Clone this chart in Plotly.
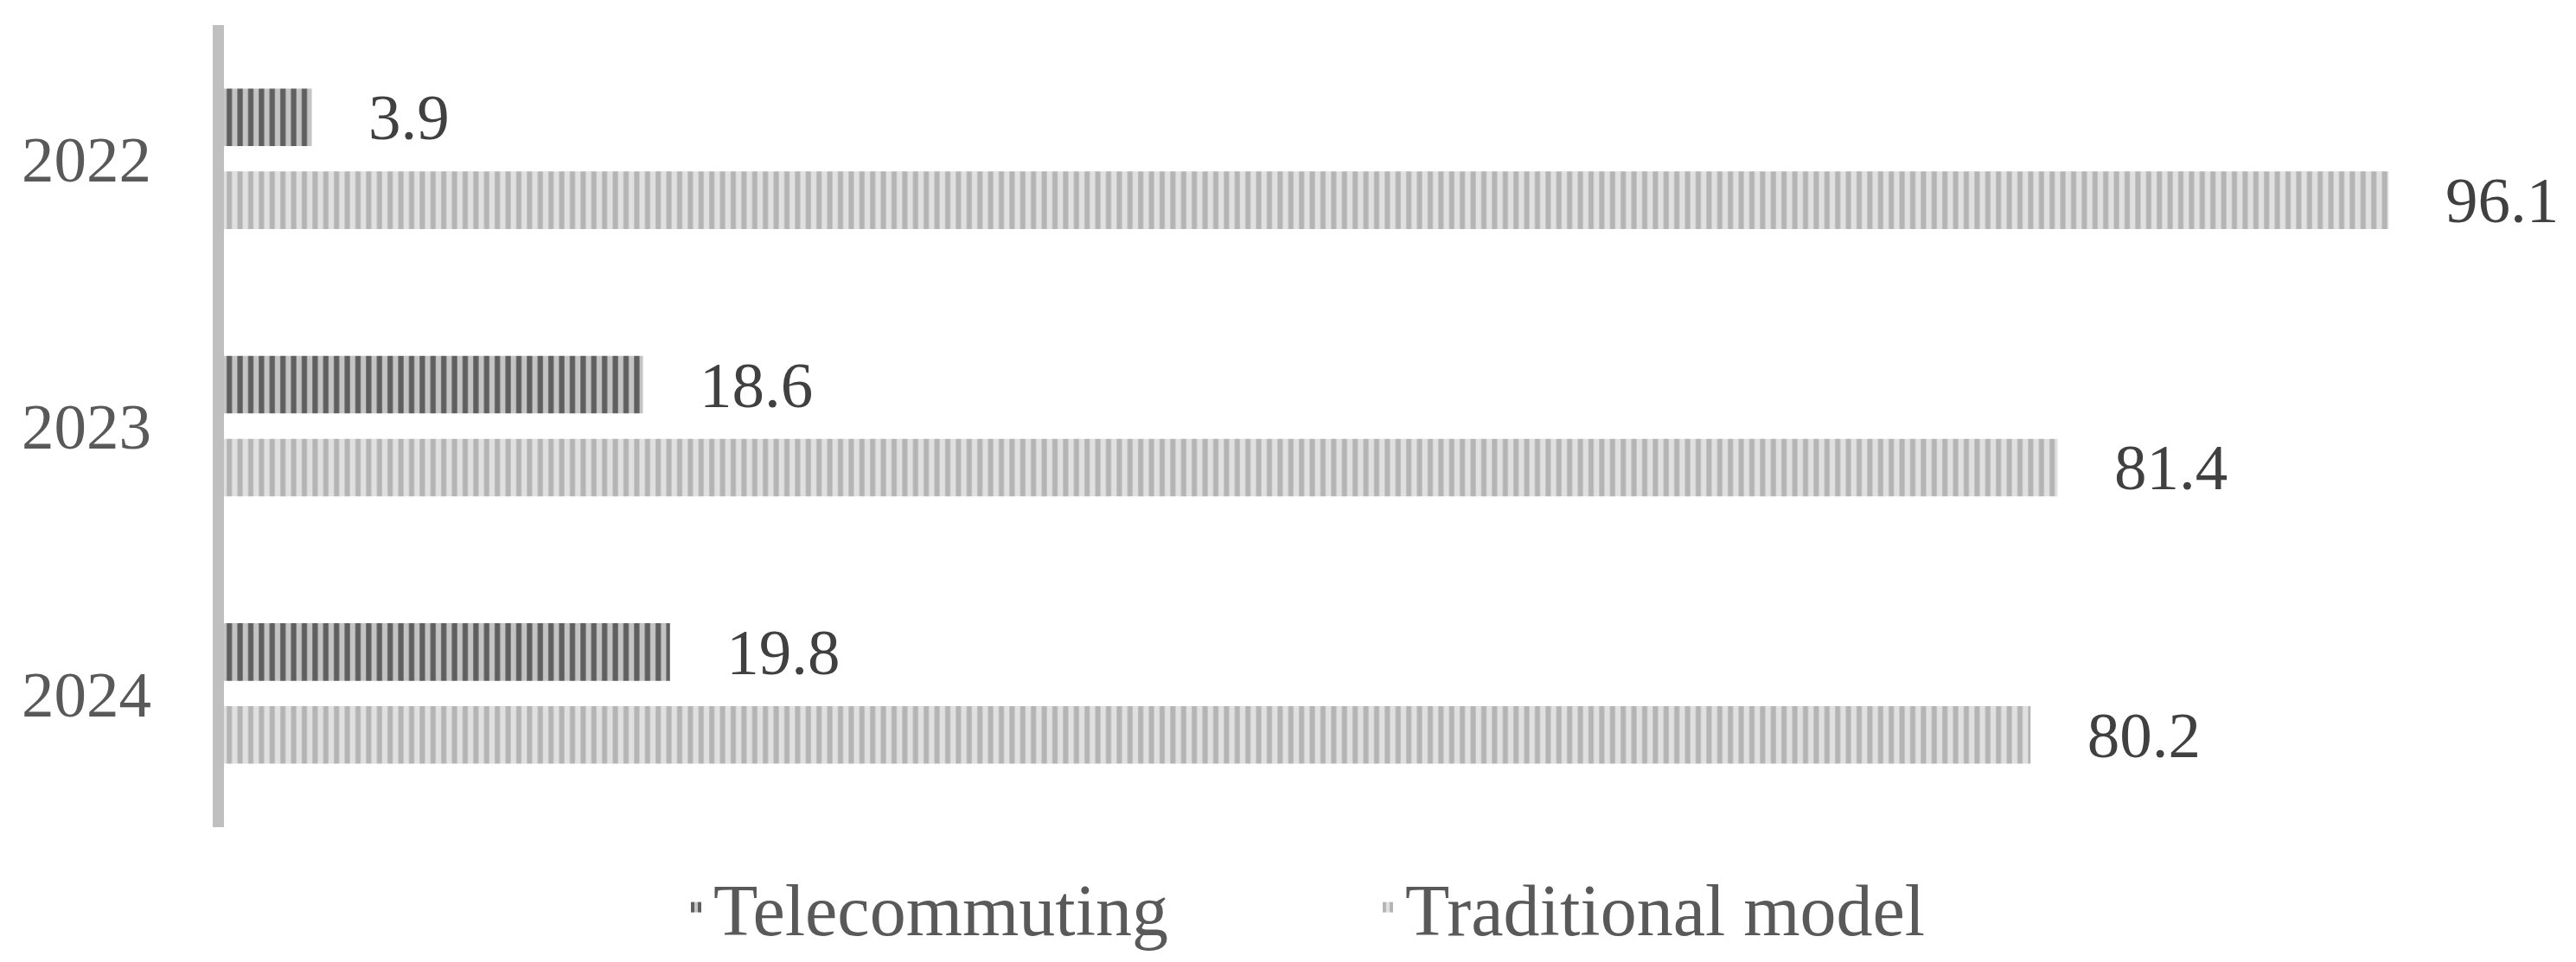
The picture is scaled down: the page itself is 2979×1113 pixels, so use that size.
import plotly.graph_objects as go

years = ["2022", "2023", "2024"]
telecommuting = [3.9, 18.6, 19.8]
traditional = [96.1, 81.4, 80.2]
series_names = ["Telecommuting", "Traditional model"]

FONT = "Liberation Serif"
PAD = "\u2002\u2004"

W, H = 2963, 1097

fig = go.Figure()
fig.add_trace(go.Bar(
    name=series_names[0], y=years, x=telecommuting, orientation="h",
    text=[PAD + f"{v:.1f}" for v in telecommuting], textposition="outside",
    textfont=dict(family=FONT, size=75, color="#404040"),
    constraintext="none", cliponaxis=False,
    marker=dict(color="#c4c4c4", line=dict(width=0),
                pattern=dict(shape="|", fgcolor="#5f5f5f", bgcolor="#c4c4c4",
                             size=12.4, solidity=0.5, fillmode="replace")),
))
fig.add_trace(go.Bar(
    name=series_names[1], y=years, x=traditional, orientation="h",
    text=[PAD + f"{v:.1f}" for v in traditional], textposition="outside",
    textfont=dict(family=FONT, size=75, color="#404040"),
    constraintext="none", cliponaxis=False,
    marker=dict(color="#e0e0e0", line=dict(width=0),
                pattern=dict(shape="|", fgcolor="#b4b4b4", bgcolor="#e0e0e0",
                             size=12.4, solidity=0.48, fillmode="replace")),
))

fig.update_layout(
    width=W, height=H,
    margin=dict(l=251, r=W - 251 - 2605, t=21, b=H - 21 - 928),
    paper_bgcolor="white", plot_bgcolor="white",
    barmode="group", bargap=0.38, bargroupgap=0.306,
    font=dict(family=FONT, color="#595959"),
    xaxis=dict(range=[0, 100], visible=False),
    yaxis=dict(
        type="category", categoryorder="array", categoryarray=years,
        autorange="reversed", showline=True, linecolor="#bfbfbf", linewidth=13,
        ticks="", showgrid=False, zeroline=False, ticklabelstandoff=56,
        tickfont=dict(family=FONT, size=75, color="#595959"),
    ),
    legend=dict(
        orientation="h", xref="container", yref="container",
        x=777 / W, xanchor="left", y=1 - 1042 / H, yanchor="middle",
        font=dict(family=FONT, size=84, color="#595959"),
        entrywidth=755, entrywidthmode="pixels",
        bgcolor="rgba(0,0,0,0)",
    ),
    showlegend=True,
)

fig.write_html("out.html")
